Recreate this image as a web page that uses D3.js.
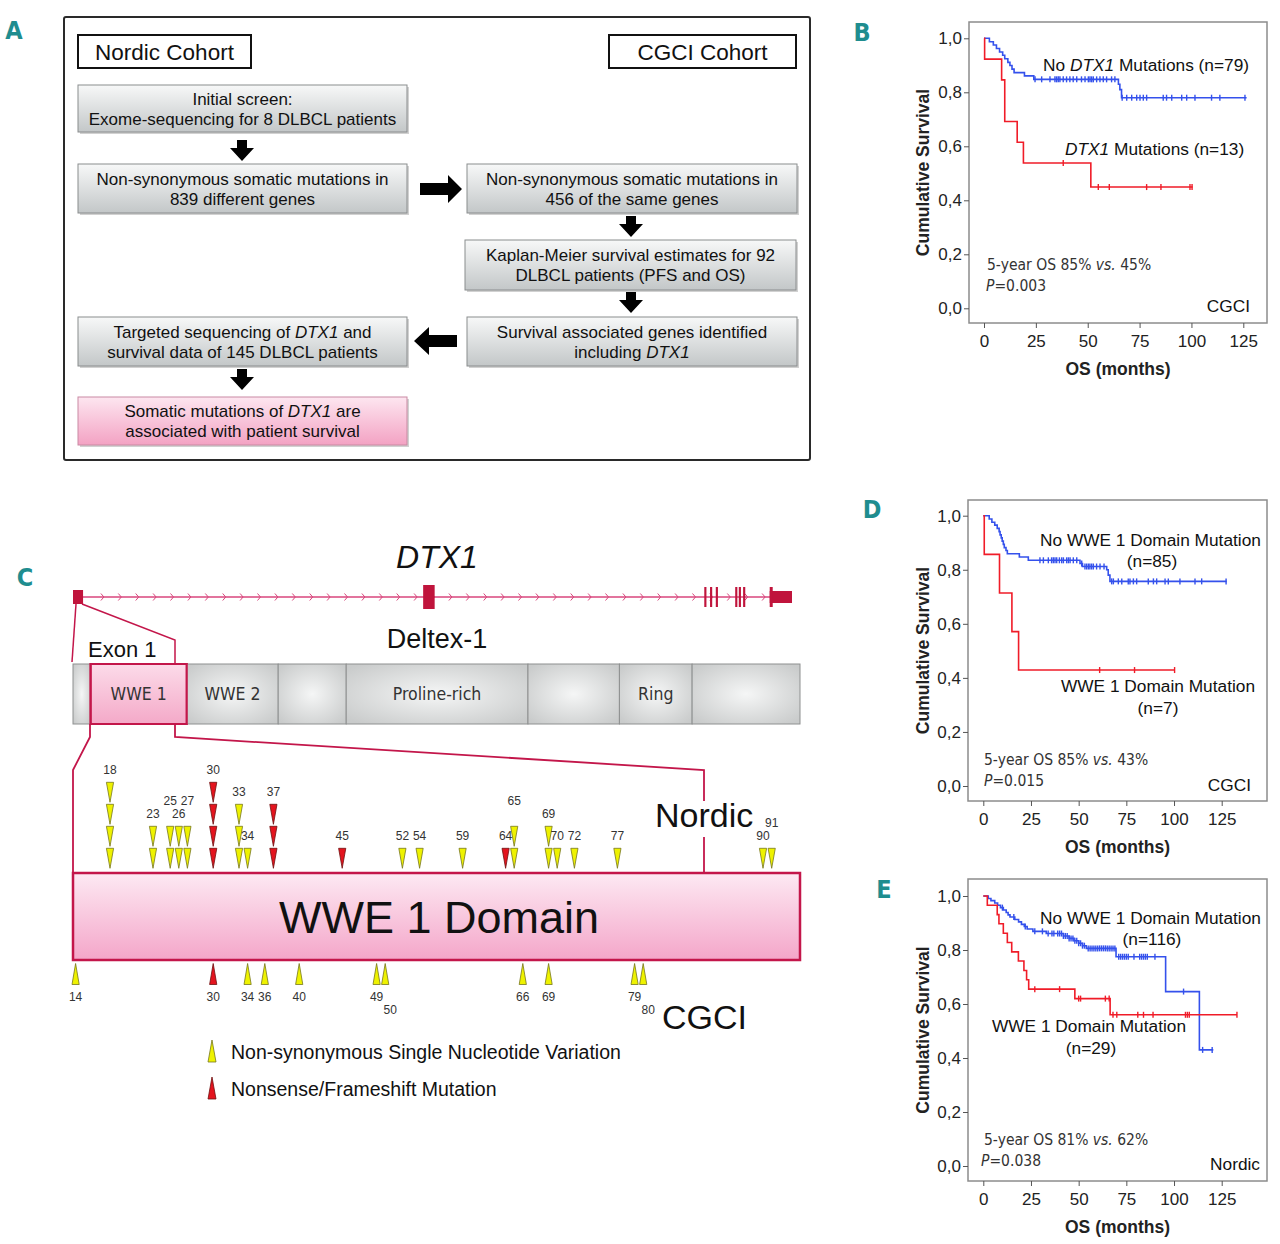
<!DOCTYPE html>
<html><head><meta charset="utf-8">
<script src="https://cdn.jsdelivr.net/npm/d3@7"></script>
<style>body{margin:0;background:#fff}svg{display:block}</style>
</head><body>
<svg id="fig" width="1280" height="1244"></svg>
<script>
// ---------------- DATA ----------------
const xTicks = [0, 25, 50, 75, 100, 125];
const yTicks = [0, 0.2, 0.4, 0.6, 0.8, 1.0];

// Panel B (CGCI, DTX1)
const bBlueT = [0, 2.6, 4.5, 6, 7.5, 9, 10, 11.5, 12.5, 13.5, 14.5, 19.5, 24, 64.8, 65.5, 66.3];
const bBlueS = [1, 0.987, 0.975, 0.962, 0.949, 0.937, 0.924, 0.911, 0.899, 0.886, 0.873, 0.861, 0.848, 0.83, 0.81, 0.78];
const bBlueEnd = 126.6;
const bBlueCens = [24.6, 27.8, 31.8, 34.2, 35, 35.8, 36.6, 38.2, 39.8, 41.4, 43, 44.7, 47, 48.7, 50.3, 51.1, 51.9, 52.7, 54.3, 55.9, 57.5, 59.1, 61.5, 63.1,
  66.6, 68.8, 71.2, 73.6, 75.2, 76.8, 78.4, 86.4, 88, 90.5, 95.3, 97.7, 101.7, 109.7, 113.7, 125.8];
const bRedT = [0, 0.3, 8.5, 10, 16, 19, 51.5];
const bRedS = [1, 0.923, 0.846, 0.692, 0.615, 0.538, 0.449];
const bRedEnd = 100.6;
const bRedCens = [38.2, 55.1, 60.4, 78.4, 85.3, 99.3, 100.3];

// Panel D (CGCI, WWE1)
const dBlueT = [0, 3.1, 4.5, 6, 7.3, 8.3, 8.8, 9.4, 9.9, 10.5, 11, 11.9, 12.6, 18.9, 23.6, 50.7, 52, 64.7, 65.5, 66.4];
const dBlueS = [1, 0.988, 0.976, 0.965, 0.953, 0.941, 0.929, 0.918, 0.906, 0.894, 0.882, 0.871, 0.859, 0.847, 0.835, 0.823, 0.812, 0.80, 0.78, 0.757];
const dBlueEnd = 127.6;
const dBlueCens = [29.7, 31.5, 34.1, 35.8, 36.7, 37.6, 38.5, 39.9, 41.1, 42, 43.7, 44.6, 45.5, 47.2, 49, 51.6, 53.3, 54.2, 55.1, 55.9, 56.8, 57.7, 59.4, 61.2, 63.3,
  67.3, 68.2, 70.8, 72.6, 76.0, 76.9, 78.7, 80.4, 86.5, 89.2, 90.9, 95.3, 97, 103.1, 111, 114.5, 127.3];
const dRedT = [0, 0.5, 8.5, 15, 18.5];
const dRedS = [1, 0.857, 0.714, 0.571, 0.429];
const dRedEnd = 100.5;
const dRedCens = [61, 79.3, 100.3];

// Panel E (Nordic, WWE1)
const eBlueT = [0, 2.6, 4, 6, 7.5, 9, 10.5, 12, 13, 14, 16.5, 18.5, 20, 21.5, 23, 26, 33, 42, 45, 47.5, 50, 52, 54, 69.6, 95.6, 113.3];
const eBlueS = [1, 0.991, 0.983, 0.974, 0.966, 0.957, 0.948, 0.939, 0.930, 0.922, 0.913, 0.904, 0.895, 0.887, 0.878, 0.869, 0.861, 0.852, 0.843, 0.834, 0.825, 0.816, 0.806, 0.775, 0.646, 0.43];
const eBlueEnd = 120.6;
const eBlueCens = [10, 16, 22, 27, 31, 34, 36, 37, 39, 40, 41, 42, 43, 44, 45, 46, 47, 48, 49, 50, 51, 52, 53, 55, 56, 57, 58, 59, 60, 61, 62, 63, 64, 65, 66, 67, 68, 69,
  71, 72, 73, 74, 75, 76, 79, 82, 83, 84, 85, 86, 90, 105, 115, 120];
const eRedT = [0, 2.1, 7.3, 8.2, 10.5, 12.6, 14.9, 18.4, 21.3, 22.7, 23.8, 48, 66.5];
const eRedS = [1, 0.966, 0.931, 0.897, 0.862, 0.828, 0.793, 0.759, 0.724, 0.690, 0.655, 0.62, 0.56];
const eRedEnd = 133;
const eRedCens = [27, 40, 50, 51, 64, 66, 68, 70, 81, 84, 89, 106, 107, 108, 133];

// Panel C: gene structure (relative gene coordinate 0-100)
const exonStart = [0, 48.7, 87.8, 88.6, 89.4, 92.1, 92.6, 93.2, 96.9];
const exonEnd   = [1.4, 50.3, 88.1, 88.9, 89.7, 92.4, 92.9, 93.5, 100];
const exonKind  = ["first", "big", "thin", "thin", "thin", "thin", "thin", "thin", "last"];

// Panel C: protein (amino-acid coordinates)
const segStart = [0, 15, 97, 175, 233, 388, 466, 528];
const segEnd   = [15, 97, 175, 233, 388, 466, 528, 620];
const segName  = ["", "WWE 1", "WWE 2", "", "Proline-rich", "", "Ring", ""];

// Panel C: mutations in WWE1 domain (residue)
const nordicPos   = [18, 23, 25, 26, 27, 30, 33, 34, 37, 45, 52, 54, 59, 64, 65, 69, 70, 72, 77, 90, 91];
const nordicCount = [4, 2, 2, 2, 2, 4, 3, 1, 3, 1, 1, 1, 1, 1, 2, 2, 1, 1, 1, 1, 1];
const nordicType  = ["snv","snv","snv","snv","snv","nf","snv","snv","nf","nf","snv","snv","snv","nf","snv","snv","snv","snv","snv","snv","snv"];
const cgciPos  = [14, 30, 34, 36, 40, 49, 50, 66, 69, 79, 80];
const cgciType = ["snv","nf","snv","snv","snv","snv","snv","snv","snv","snv","snv"];

// Panel A text
const flowLines = [
  ["Initial screen:", "Exome-sequencing for 8 DLBCL patients"],
  ["Non-synonymous somatic mutations in", "839 different genes"],
  ["Non-synonymous somatic mutations in", "456 of the same genes"],
  ["Kaplan-Meier survival estimates for 92", "DLBCL patients (PFS and OS)"],
  ["Survival associated genes identified", "including *DTX1*"],
  ["Targeted sequencing of *DTX1* and", "survival data of 145 DLBCL patients"],
  ["Somatic mutations of *DTX1* are", "associated with patient survival"]
];

// ---------------- DRAWING ----------------
const svg = d3.select("#fig");
const SANS = "'Liberation Sans', Arial, Helvetica, sans-serif";
const NARROW = "'Liberation Sans Narrow', 'DejaVu Sans Condensed', 'Arial Narrow', sans-serif";
const defs = svg.append("defs");

function linGrad(id, c1, c2) {
  const g = defs.append("linearGradient").attr("id", id).attr("x1", 0).attr("y1", 0).attr("x2", 0).attr("y2", 1);
  g.append("stop").attr("offset", "0%").attr("stop-color", c1);
  g.append("stop").attr("offset", "100%").attr("stop-color", c2);
}
linGrad("boxGrad", "#f7f8f8", "#c3c7c8");
linGrad("pinkBox", "#fde6f0", "#f3a2c3");
linGrad("domGrad", "#fde9f3", "#f4a6c9");
linGrad("wwe1Grad", "#fcdbe9", "#f4a9c8");
const rg = defs.append("radialGradient").attr("id", "segGrad").attr("cx", "50%").attr("cy", "50%").attr("r", "65%");
rg.append("stop").attr("offset", "0%").attr("stop-color", "#f5f6f6");
rg.append("stop").attr("offset", "100%").attr("stop-color", "#c9cbcb");

function richText(sel, str) {
  const parts = str.split("*");
  parts.forEach((p, i) => {
    if (!p) return;
    sel.append("tspan").text(p).attr("font-style", i % 2 ? "italic" : null);
  });
}

// panel letters
const letters = [["A", 14, 39], ["B", 862, 41], ["C", 25, 586], ["D", 872, 518], ["E", 884, 898]];
svg.selectAll("text.letter").data(letters).enter().append("text")
  .attr("class", "letter").attr("x", d => d[1]).attr("y", d => d[2])
  .attr("text-anchor", "middle")
  .attr("font-family", NARROW).attr("font-weight", "bold").attr("font-size", 25)
  .attr("fill", "#1f8d8f").text(d => d[0]);

// ===== Panel A =====
const A = svg.append("g");
A.append("rect").attr("x", 64).attr("y", 17).attr("width", 746).attr("height", 443).attr("rx", 2)
  .attr("fill", "#fff").attr("stroke", "#2a2a2a").attr("stroke-width", 2);
[["Nordic Cohort", 78, 35, 173], ["CGCI Cohort", 609, 35, 187]].forEach(([t, x, y, w]) => {
  A.append("rect").attr("x", x).attr("y", y).attr("width", w).attr("height", 33)
    .attr("fill", "#fff").attr("stroke", "#111").attr("stroke-width", 2);
  A.append("text").attr("x", x + w / 2).attr("y", y + 25).attr("text-anchor", "middle")
    .attr("font-family", SANS).attr("font-size", 22.5).attr("fill", "#111").text(t);
});
const boxGeom = [
  [78, 85, 329, 47], [78, 164, 329, 49], [467, 164, 330, 49], [465, 240, 331, 50],
  [467, 317, 330, 49], [78, 317, 329, 49], [78, 397, 329, 48]
];
boxGeom.forEach((b, i) => {
  const [x, y, w, h] = b;
  A.append("rect").attr("x", x + 2).attr("y", y + 2).attr("width", w).attr("height", h).attr("fill", "#9a9a9a").attr("opacity", 0.45);
  A.append("rect").attr("x", x).attr("y", y).attr("width", w).attr("height", h)
    .attr("fill", i === 6 ? "url(#pinkBox)" : "url(#boxGrad)")
    .attr("stroke", i === 6 ? "#c98aa3" : "#8a8d8e").attr("stroke-width", 1);
  flowLines[i].forEach((ln, k) => {
    const t = A.append("text").attr("x", x + w / 2).attr("y", y + h / 2 - 10 + k * 20 + 6)
      .attr("text-anchor", "middle").attr("font-family", SANS).attr("font-size", 17).attr("fill", "#111");
    richText(t, ln);
  });
});
function downArrow(cx, y0) {
  A.append("path").attr("d",
    `M${cx - 5},${y0} L${cx + 5},${y0} L${cx + 5},${y0 + 8} L${cx + 12},${y0 + 8} L${cx},${y0 + 21} L${cx - 12},${y0 + 8} L${cx - 5},${y0 + 8} Z`)
    .attr("fill", "#000");
}
downArrow(242, 140); downArrow(631, 216); downArrow(631, 292); downArrow(242, 369);
A.append("path").attr("d", "M420,183 L448,183 L448,175 L462,189 L448,203 L448,195 L420,195 Z").attr("fill", "#000");
A.append("path").attr("d", "M457,335 L429,335 L429,327 L414,341 L429,355 L429,347 L457,347 Z").attr("fill", "#000");

// ===== KM plots =====
function km(cfg) {
  const g = svg.append("g");
  const x = d3.scaleLinear().domain([0, 125]).range(cfg.xr);
  const y = d3.scaleLinear().domain([0, 1]).range(cfg.yr);
  g.append("rect").attr("x", cfg.fx).attr("y", cfg.fy).attr("width", cfg.fw).attr("height", cfg.fh)
    .attr("fill", "#fff").attr("stroke", "#8c8c8c").attr("stroke-width", 1.5);
  const yAxis = d3.axisLeft(y).tickValues(yTicks).tickSize(5).tickPadding(2)
    .tickFormat(d => d3.format(".1f")(d).replace(".", ","));
  const ya = g.append("g").attr("transform", `translate(${cfg.fx},0)`).call(yAxis);
  const xAxis = d3.axisBottom(x).tickValues(xTicks).tickSize(5).tickPadding(7);
  const xa = g.append("g").attr("transform", `translate(0,${cfg.fy + cfg.fh})`).call(xAxis);
  [ya, xa].forEach(a => {
    a.select(".domain").remove();
    a.selectAll("line").attr("stroke", "#555");
    a.selectAll("text").attr("font-family", SANS).attr("font-size", 17).attr("fill", "#222");
  });
  g.append("text").attr("x", (cfg.fx + cfg.fx + cfg.fw) / 2).attr("y", cfg.fy + cfg.fh + 52)
    .attr("text-anchor", "middle").attr("font-family", SANS).attr("font-weight", "bold").attr("font-size", 17.5)
    .attr("fill", "#222").text("OS (months)");
  g.append("text").attr("transform", `translate(929,${cfg.fy + cfg.fh / 2}) rotate(-90)`)
    .attr("text-anchor", "middle").attr("font-family", SANS).attr("font-weight", "bold").attr("font-size", 17.5)
    .attr("fill", "#222").text("Cumulative Survival");

  const line = d3.line().x(d => x(d[0])).y(d => y(d[1])).curve(d3.curveStepAfter);
  cfg.curves.forEach(c => {
    const pts = c.t.map((t, i) => [t, c.s[i]]);
    pts.push([c.end, c.s[c.s.length - 1]]);
    g.append("path").attr("d", line(pts)).attr("fill", "none").attr("stroke", c.color).attr("stroke-width", 1.6);
    const sAt = t => c.s[Math.max(0, d3.bisectRight(c.t, t) - 1)];
    g.selectAll(null).data(c.cens).enter().append("line")
      .attr("x1", d => x(d)).attr("x2", d => x(d))
      .attr("y1", d => y(sAt(d)) - 3).attr("y2", d => y(sAt(d)) + 3)
      .attr("stroke", c.color).attr("stroke-width", 1.4);
  });
  cfg.labels.forEach(l => {
    const t = g.append("text").attr("x", l[1]).attr("y", l[2]).attr("text-anchor", l[3] || "start")
      .attr("font-family", l[4] ? NARROW : SANS).attr("font-size", l[4] ? 15.5 : 17.3).attr("fill", l[4] ? "#333" : "#111");
    richText(t, l[0]);
  });
}
const BLUE = "#3451ec", RED = "#f01c28";
km({
  fx: 969, fy: 22, fw: 298, fh: 301, xr: [984, 1243.3], yr: [308.3, 38.3],
  curves: [
    { t: bBlueT, s: bBlueS, end: bBlueEnd, cens: bBlueCens, color: BLUE },
    { t: bRedT, s: bRedS, end: bRedEnd, cens: bRedCens, color: RED }
  ],
  labels: [
    ["No *DTX1* Mutations (n=79)", 1043, 71],
    ["*DTX1* Mutations (n=13)", 1065, 155],
    ["5-year OS 85% *vs.* 45%", 987, 270, null, true],
    ["*P*=0.003", 986, 291, null, true],
    ["CGCI", 1250, 312, "end"]
  ]
});
km({
  fx: 968, fy: 500, fw: 299, fh: 301, xr: [983.3, 1221.7], yr: [786, 515.7],
  curves: [
    { t: dBlueT, s: dBlueS, end: dBlueEnd, cens: dBlueCens, color: BLUE },
    { t: dRedT, s: dRedS, end: dRedEnd, cens: dRedCens, color: RED }
  ],
  labels: [
    ["No WWE 1 Domain Mutation", 1040, 546],
    ["(n=85)", 1152, 567, "middle"],
    ["WWE 1 Domain Mutation", 1061, 692],
    ["(n=7)", 1158, 714, "middle"],
    ["5-year OS 85% *vs.* 43%", 984, 765, null, true],
    ["*P*=0.015", 984, 786, null, true],
    ["CGCI", 1251, 791, "end"]
  ]
});
km({
  fx: 968, fy: 879, fw: 299, fh: 302, xr: [983.3, 1221.7], yr: [1166, 896],
  curves: [
    { t: eBlueT, s: eBlueS, end: eBlueEnd, cens: eBlueCens, color: BLUE },
    { t: eRedT, s: eRedS, end: eRedEnd, cens: eRedCens, color: RED }
  ],
  labels: [
    ["No WWE 1 Domain Mutation", 1040, 924],
    ["(n=116)", 1152, 945, "middle"],
    ["WWE 1 Domain Mutation", 992, 1032],
    ["(n=29)", 1091, 1054, "middle"],
    ["5-year OS 81% *vs.* 62%", 984, 1145, null, true],
    ["*P*=0.038", 981, 1166, null, true],
    ["Nordic", 1260, 1170, "end"]
  ]
});

// ===== Panel C =====
const C = svg.append("g");
const CRIM = "#c3164a", GENE = "#d8467c";
C.append("text").attr("x", 437).attr("y", 568).attr("text-anchor", "middle").attr("font-family", SANS)
  .attr("font-style", "italic").attr("font-size", 32).attr("fill", "#111").text("DTX1");
const gx = d3.scaleLinear().domain([0, 100]).range([73, 792]);
const gy = 597;
C.append("line").attr("x1", gx(0)).attr("x2", gx(100)).attr("y1", gy).attr("y2", gy).attr("stroke", GENE).attr("stroke-width", 1.6);
d3.range(1, 40).forEach(i => {
  const xx = 85 + i * 17.4;
  if (xx > 765) return;
  C.append("path").attr("d", `M${xx - 1.5},${gy - 3.5} L${xx + 1.5},${gy} L${xx - 1.5},${gy + 3.5}`)
    .attr("fill", "none").attr("stroke", GENE).attr("stroke-width", 1);
});
exonStart.forEach((s, i) => {
  const k = exonKind[i];
  const h = k === "big" ? 24 : k === "thin" ? 20 : k === "first" ? 14 : 12;
  C.append("rect").attr("x", gx(s)).attr("y", gy - h / 2).attr("width", gx(exonEnd[i]) - gx(s)).attr("height", h).attr("fill", "#c0143c");
  if (k === "last") C.append("rect").attr("x", gx(s)).attr("y", gy - 10).attr("width", 3).attr("height", 20).attr("fill", "#c0143c");
});
C.append("path").attr("d", `M76,604 L72,662`).attr("stroke", CRIM).attr("stroke-width", 1.5).attr("fill", "none");
C.append("path").attr("d", `M82,604 L175,640 L175,664`).attr("stroke", CRIM).attr("stroke-width", 1.5).attr("fill", "none");
C.append("text").attr("x", 88).attr("y", 657).attr("font-family", SANS).attr("font-size", 22).attr("fill", "#111").text("Exon 1");
C.append("text").attr("x", 437).attr("y", 648).attr("text-anchor", "middle").attr("font-family", SANS).attr("font-size", 27).attr("fill", "#111").text("Deltex-1");

// protein
const px = d3.scaleLinear().domain([0, 620]).range([73, 800]);
const pY = 664, pH = 60;
segStart.forEach((s, i) => {
  const isW = segName[i] === "WWE 1";
  C.append("rect").attr("x", px(s)).attr("y", pY).attr("width", px(segEnd[i]) - px(s)).attr("height", pH)
    .attr("fill", isW ? "url(#wwe1Grad)" : "url(#segGrad)")
    .attr("stroke", isW ? CRIM : "#8e9090").attr("stroke-width", isW ? 2 : 1);
  if (segName[i]) C.append("text").attr("x", (px(s) + px(segEnd[i])) / 2).attr("y", pY + 36)
    .attr("text-anchor", "middle").attr("font-family", NARROW).attr("font-size", 17.5).attr("fill", "#333").text(segName[i]);
});
const wi = segName.indexOf("WWE 1");
C.append("rect").attr("x", px(segStart[wi])).attr("y", pY).attr("width", px(segEnd[wi]) - px(segStart[wi])).attr("height", pH)
  .attr("fill", "none").attr("stroke", CRIM).attr("stroke-width", 2);
C.append("path").attr("d", "M90,724 L90,737 L73,770 L73,873").attr("stroke", CRIM).attr("stroke-width", 1.8).attr("fill", "none");
C.append("path").attr("d", "M175,724 L175,737 L704,770 L704,801").attr("stroke", CRIM).attr("stroke-width", 1.8).attr("fill", "none");
C.append("path").attr("d", "M704,837 L704,873").attr("stroke", CRIM).attr("stroke-width", 1.8).attr("fill", "none");

C.append("rect").attr("x", 73).attr("y", 873).attr("width", 727).attr("height", 87)
  .attr("fill", "url(#domGrad)").attr("stroke", CRIM).attr("stroke-width", 2.5);
C.append("text").attr("x", 439).attr("y", 933).attr("text-anchor", "middle").attr("font-family", SANS)
  .attr("font-size", 45).attr("fill", "#111").text("WWE 1 Domain");
C.append("text").attr("x", 655).attr("y", 827).attr("font-family", SANS).attr("font-size", 34).attr("fill", "#111").text("Nordic");
C.append("text").attr("x", 662).attr("y", 1029).attr("font-family", SANS).attr("font-size", 34).attr("fill", "#111").text("CGCI");

const mx = d3.scaleLinear().domain([14, 80, 90, 91]).range([75.6, 643.2, 763, 771.7]);
const TRI_FILL = { snv: "#eef200", nf: "#e3141e" }, TRI_STROKE = { snv: "#76761e", nf: "#6e1010" };
const HW = 3.6, TH = 20, STEP = 22, BASE_TIP = 868.3;
const raisedLabels = [25, 27, 65, 91];
nordicPos.forEach((p, i) => {
  const xx = mx(p);
  for (let r = 0; r < nordicCount[i]; r++) {
    const tip = BASE_TIP - r * STEP, top = tip - TH;
    C.append("path").attr("d", `M${xx - HW},${top} L${xx + HW},${top} L${xx},${tip} Z`)
      .attr("fill", TRI_FILL[nordicType[i]]).attr("stroke", TRI_STROKE[nordicType[i]]).attr("stroke-width", 0.8);
  }
  const stackTop = BASE_TIP - TH - (nordicCount[i] - 1) * STEP;
  const ly = stackTop - 8 - (raisedLabels.includes(p) ? 13 : 0);
  C.append("text").attr("x", xx).attr("y", ly).attr("text-anchor", "middle").attr("font-family", SANS)
    .attr("font-size", 12).attr("fill", "#333").text(p);
});
const loweredLabels = [50, 80];
cgciPos.forEach((p, i) => {
  const xx = mx(p), tip = 963.5, base = 984.5;
  C.append("path").attr("d", `M${xx},${tip} L${xx + HW},${base} L${xx - HW},${base} Z`)
    .attr("fill", TRI_FILL[cgciType[i]]).attr("stroke", TRI_STROKE[cgciType[i]]).attr("stroke-width", 0.8);
  C.append("text").attr("x", xx + (loweredLabels.includes(p) ? 5 : 0)).attr("y", loweredLabels.includes(p) ? 1014 : 1001)
    .attr("text-anchor", "middle").attr("font-family", SANS).attr("font-size", 12).attr("fill", "#333").text(p);
});

const legendTypes = ["snv", "nf"];
const legendText = ["Non-synonymous Single Nucleotide Variation", "Nonsense/Frameshift Mutation"];
legendTypes.forEach((t, i) => {
  const y0 = 1040 + i * 37;
  C.append("path").attr("d", `M212,${y0} L216,${y0 + 22} L208,${y0 + 22} Z`)
    .attr("fill", TRI_FILL[t]).attr("stroke", TRI_STROKE[t]).attr("stroke-width", 0.8);
  C.append("text").attr("x", 231).attr("y", y0 + 19).attr("font-family", SANS).attr("font-size", 19.5)
    .attr("fill", "#111").text(legendText[i]);
});
</script>
</body></html>
